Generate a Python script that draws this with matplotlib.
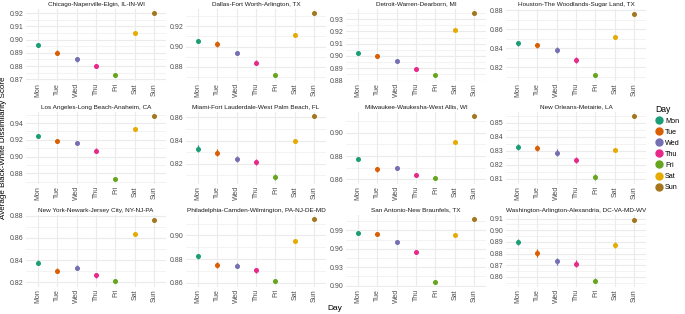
import matplotlib
matplotlib.use("Agg")
import matplotlib.pyplot as plt
import numpy as np
from matplotlib.lines import Line2D

plt.rcParams['font.family'] = ['Liberation Sans', 'DejaVu Sans']

days = ["Mon", "Tue", "Wed", "Thu", "Fri", "Sat", "Sun"]
day_colors = ["#1B9E77", "#D95F02", "#7570B3", "#E7298A", "#66A61E", "#E6AB02", "#A6761D"]

cities = [
    "Chicago-Naperville-Elgin, IL-IN-WI",
    "Dallas-Fort Worth-Arlington, TX",
    "Detroit-Warren-Dearborn, MI",
    "Houston-The Woodlands-Sugar Land, TX",
    "Los Angeles-Long Beach-Anaheim, CA",
    "Miami-Fort Lauderdale-West Palm Beach, FL",
    "Milwaukee-Waukesha-West Allis, WI",
    "New Orleans-Metairie, LA",
    "New York-Newark-Jersey City, NY-NJ-PA",
    "Philadelphia-Camden-Wilmington, PA-NJ-DE-MD",
    "San Antonio-New Braunfels, TX",
    "Washington-Arlington-Alexandria, DC-VA-MD-WV",
]

# mean dissimilarity score, Mon..Sun
scores = [
    [0.896, 0.890, 0.885, 0.880, 0.873, 0.905, 0.920],
    [0.9055, 0.9025, 0.8935, 0.8840, 0.8715, 0.9115, 0.9330],
    [0.9025, 0.9000, 0.8960, 0.8890, 0.8845, 0.9210, 0.9350],
    [0.8452, 0.8432, 0.8380, 0.8275, 0.8118, 0.8515, 0.8765],
    [0.9240, 0.9180, 0.9165, 0.9072, 0.8736, 0.9324, 0.9484],
    [0.8329, 0.8294, 0.8240, 0.8214, 0.8083, 0.8394, 0.8609],
    [0.8777, 0.8687, 0.8701, 0.8634, 0.8608, 0.8924, 0.9140],
    [0.8326, 0.8316, 0.8284, 0.8234, 0.8109, 0.8302, 0.8545],
    [0.8376, 0.8304, 0.8331, 0.8260, 0.8209, 0.8636, 0.8767],
    [0.8823, 0.8752, 0.8746, 0.8707, 0.8617, 0.8949, 0.9135],
    [0.9861, 0.9845, 0.9704, 0.9545, 0.9052, 0.9823, 1.0090],
    [0.8900, 0.8806, 0.8734, 0.8711, 0.8567, 0.8874, 0.9091],
]

# half width of the error bars
errors = [
    [0.0018, 0.0018, 0.0018, 0.0017, 0.0015, 0.0010, 0.0008],
    [0.0020, 0.0025, 0.0022, 0.0022, 0.0020, 0.0012, 0.0010],
    [0.0012, 0.0013, 0.0013, 0.0012, 0.0012, 0.0008, 0.0007],
    [0.0026, 0.0026, 0.0030, 0.0030, 0.0025, 0.0017, 0.0014],
    [0.0018, 0.0022, 0.0020, 0.0028, 0.0020, 0.0012, 0.0010],
    [0.0030, 0.0030, 0.0025, 0.0025, 0.0025, 0.0015, 0.0010],
    [0.0015, 0.0020, 0.0018, 0.0015, 0.0015, 0.0010, 0.0010],
    [0.0019, 0.0022, 0.0025, 0.0021, 0.0021, 0.0012, 0.0008],
    [0.0024, 0.0024, 0.0024, 0.0024, 0.0020, 0.0012, 0.0012],
    [0.0023, 0.0023, 0.0023, 0.0020, 0.0020, 0.0012, 0.0010],
    [0.0016, 0.0016, 0.0016, 0.0016, 0.0015, 0.0012, 0.0010],
    [0.0027, 0.0032, 0.0030, 0.0030, 0.0022, 0.0023, 0.0012],
]

yticks = [
    [0.87, 0.88, 0.89, 0.90, 0.91, 0.92],
    [0.88, 0.90, 0.92],
    [0.88, 0.89, 0.90, 0.91, 0.92, 0.93],
    [0.82, 0.84, 0.86, 0.88],
    [0.88, 0.90, 0.92, 0.94],
    [0.82, 0.84, 0.86],
    [0.86, 0.88, 0.90],
    [0.81, 0.82, 0.83, 0.84, 0.85],
    [0.82, 0.84, 0.86, 0.88],
    [0.86, 0.88, 0.90],
    [0.90, 0.93, 0.96, 0.99],
    [0.86, 0.87, 0.88, 0.89, 0.90, 0.91],
]

W, H = 685, 314
fig = plt.figure(figsize=(W / 100, H / 100), dpi=100)
fig.patch.set_facecolor("white")

col_left = [26, 186, 346, 506]
row_top = [9, 112, 215]
pw, ph = 140, 71.5
grid_c = "#EBEBEB"
x = np.arange(len(days))

for i, city in enumerate(cities):
    r, c = divmod(i, 4)
    ax = fig.add_axes([col_left[c] / W, 1 - (row_top[r] + ph) / H, pw / W, ph / H])
    for s in ax.spines.values():
        s.set_visible(False)
    vals = scores[i]
    errs = errors[i]
    for j in range(len(days)):
        ax.errorbar(x[j], vals[j], yerr=errs[j], fmt="o", color=day_colors[j],
                    ms=2.6, lw=0.9, capsize=0, zorder=3)
    ax.set_xlim(-0.6, 6.6)
    lo = min(v - e for v, e in zip(vals, errs))
    hi = max(v + e for v, e in zip(vals, errs))
    pad = (hi - lo) * 0.05
    ax.set_ylim(lo - pad, hi + pad)
    yt = yticks[i]
    step = yt[1] - yt[0]
    minor = [t + step / 2 for t in [yt[0] - step] + yt]
    minor = [m for m in minor if lo - pad <= m <= hi + pad]
    ax.set_yticks(yt)
    ax.set_yticks(minor, minor=True)
    ax.set_yticklabels([f"{t:.2f}" for t in yt])
    ax.set_xticks(x)
    ax.set_xticklabels(days, rotation=90)
    ax.grid(True, which="major", color=grid_c, lw=0.8, zorder=0)
    ax.grid(True, which="minor", axis="y", color=grid_c, lw=0.4, zorder=0)
    ax.set_axisbelow(True)
    ax.tick_params(which="both", length=0, labelsize=5.0, labelcolor="#4D4D4D", pad=1.8)
    ax.set_title(city, fontsize=4.6, color="#1A1A1A", pad=2.5)

fig.text(3.2 / W, 1 - 148 / H, "Average Black-White Dissimilarity Score", rotation=90,
         ha="center", va="center", fontsize=5.8, color="black")
fig.text(335 / W, 1 - 309 / H, "Day", ha="center", va="center", fontsize=6.0, color="black")

handles = [Line2D([0], [0], marker="o", color=col, lw=0, ms=5) for col in day_colors]
leg = fig.legend(handles, days, title="Day", loc="upper left",
                 bbox_to_anchor=(652 / W, 1 - 102 / H), frameon=False,
                 fontsize=5.2, title_fontsize=6.2, handlelength=1.0,
                 handletextpad=0.4, labelspacing=0.55, borderaxespad=0)
leg._legend_box.align = "left"

fig.savefig("out.png", dpi=100)
